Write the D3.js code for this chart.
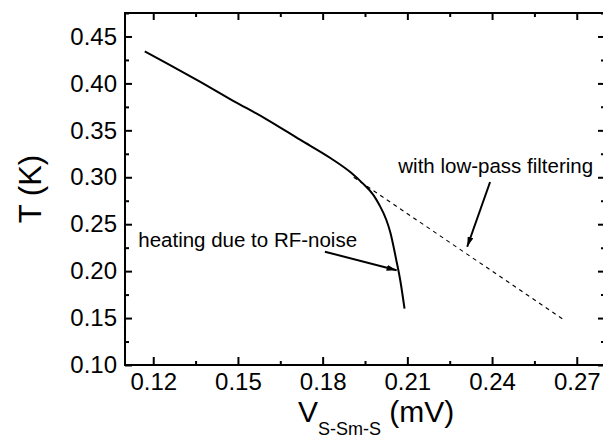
<!DOCTYPE html>
<html>
<head>
<meta charset="utf-8">
<script src="https://cdn.jsdelivr.net/npm/d3@7"></script>
<style>
  html, body { margin: 0; padding: 0; background: #fff; }
  svg { display: block; font-family: "Liberation Sans", Arial, sans-serif; }
  .tick text { font-size: 24px; fill: #000; }
</style>
</head>
<body>
<div id="chart"></div>
<script>
// measured curve: heating due to RF noise (solid)
var vHeated = [0.117, 0.125, 0.137, 0.148, 0.160, 0.172, 0.183, 0.190, 0.194, 0.198, 0.200, 0.2025, 0.204, 0.206, 0.2075, 0.209];
var tHeated = [0.434, 0.421, 0.401, 0.382, 0.362, 0.340, 0.320, 0.305, 0.294, 0.281, 0.271, 0.255, 0.241, 0.213, 0.190, 0.160];

// with low-pass filtering (dashed)
var vFiltered = [0.191, 0.266];
var tFiltered = [0.300, 0.147];

var xTicks = [0.12, 0.15, 0.18, 0.21, 0.24, 0.27];
var yTicks = [0.10, 0.15, 0.20, 0.25, 0.30, 0.35, 0.40, 0.45];
var xMinor = [0.135, 0.165, 0.195, 0.225, 0.255];
var yMinor = [0.125, 0.175, 0.225, 0.275, 0.325, 0.375, 0.425, 0.475];

// annotations: label position, arrow tail, arrow tip (data units)
var notes = [
    {text: "heating due to RF-noise", at: [0.1147, 0.2262], from: [0.1808, 0.2207], to: [0.2062, 0.2009]},
    {text: "with low-pass filtering", at: [0.2068, 0.3042], from: [0.2393, 0.2950], to: [0.2312, 0.2260]}
];

var width = 603, height = 439;
var margin = {top: 13, left: 125, right: -2, bottom: 74};
var w = width - margin.left - margin.right,
    h = height - margin.top - margin.bottom;

var x = d3.scaleLinear().domain([0.11, 0.28]).range([0, w]);
var y = d3.scaleLinear().domain([0.10, 0.475]).range([h, 0]);

var svg = d3.select("#chart").append("svg")
    .attr("width", width)
    .attr("height", height);

var defs = svg.append("defs");
defs.append("marker")
    .attr("id", "head")
    .attr("viewBox", "0 0 10 6")
    .attr("refX", 10).attr("refY", 3)
    .attr("markerWidth", 10).attr("markerHeight", 6)
    .attr("markerUnits", "userSpaceOnUse")
    .attr("orient", "auto")
  .append("path")
    .attr("d", "M0,0L10,3L0,6Z")
    .attr("fill", "#000");

var g = svg.append("g")
    .attr("transform", `translate(${margin.left},${margin.top})`);

var fmt = d3.format(".2f");

function styleAxis(sel) {
    sel.select(".domain").remove();
    sel.selectAll(".tick line").attr("stroke", "#000").attr("stroke-width", 2);
}

// major ticks with labels, inward
g.append("g").attr("transform", `translate(0,${h})`)
    .call(d3.axisBottom(x).tickValues(xTicks).tickFormat(fmt).tickSize(-8).tickPadding(8))
    .call(styleAxis);
g.append("g")
    .call(d3.axisLeft(y).tickValues(yTicks).tickFormat(fmt).tickSize(-7).tickPadding(8))
    .call(styleAxis);
g.append("g")
    .call(d3.axisTop(x).tickValues(xTicks).tickFormat("").tickSize(-7))
    .call(styleAxis);
g.append("g").attr("transform", `translate(${w},0)`)
    .call(d3.axisRight(y).tickValues(yTicks).tickFormat("").tickSize(-7))
    .call(styleAxis);

// minor ticks
g.append("g").attr("transform", `translate(0,${h})`)
    .call(d3.axisBottom(x).tickValues(xMinor).tickFormat("").tickSize(-4))
    .call(styleAxis);
g.append("g")
    .call(d3.axisTop(x).tickValues(xMinor).tickFormat("").tickSize(-4))
    .call(styleAxis);
g.append("g")
    .call(d3.axisLeft(y).tickValues(yMinor).tickFormat("").tickSize(-4))
    .call(styleAxis);
g.append("g").attr("transform", `translate(${w},0)`)
    .call(d3.axisRight(y).tickValues(yMinor).tickFormat("").tickSize(-4))
    .call(styleAxis);

// frame
g.append("rect")
    .attr("width", w).attr("height", h)
    .attr("fill", "none")
    .attr("stroke", "#000")
    .attr("stroke-width", 2);

var line = d3.line()
    .x(d => x(d[0]))
    .y(d => y(d[1]))
    .curve(d3.curveMonotoneX);

g.append("path")
    .datum(d3.zip(vFiltered, tFiltered))
    .attr("d", line)
    .attr("fill", "none")
    .attr("stroke", "#000")
    .attr("stroke-width", 1.1)
    .attr("stroke-dasharray", "4,4");

g.append("path")
    .datum(d3.zip(vHeated, tHeated))
    .attr("d", line)
    .attr("fill", "none")
    .attr("stroke", "#000")
    .attr("stroke-width", 2);

// annotations
notes.forEach(n => {
    g.append("text")
        .attr("x", x(n.at[0]))
        .attr("y", y(n.at[1]))
        .attr("font-size", 20.5)
        .attr("fill", "#000")
        .text(n.text);
    g.append("line")
        .attr("x1", x(n.from[0])).attr("y1", y(n.from[1]))
        .attr("x2", x(n.to[0])).attr("y2", y(n.to[1]))
        .attr("stroke", "#000")
        .attr("stroke-width", 2)
        .attr("marker-end", "url(#head)");
});

// axis titles
var xt = svg.append("text")
    .attr("x", 298)
    .attr("y", 422)
    .attr("font-size", 30)
    .attr("fill", "#000");
xt.append("tspan").text("V");
xt.append("tspan").attr("font-size", 18).attr("dy", 13).text("S-Sm-S");
xt.append("tspan").attr("dy", -13).text(" (mV)");

svg.append("text")
    .attr("transform", `translate(41,${margin.top + h / 2}) rotate(-90)`)
    .attr("text-anchor", "middle")
    .attr("font-size", 31)
    .attr("fill", "#000")
    .text("T (K)");
</script>
</body>
</html>
